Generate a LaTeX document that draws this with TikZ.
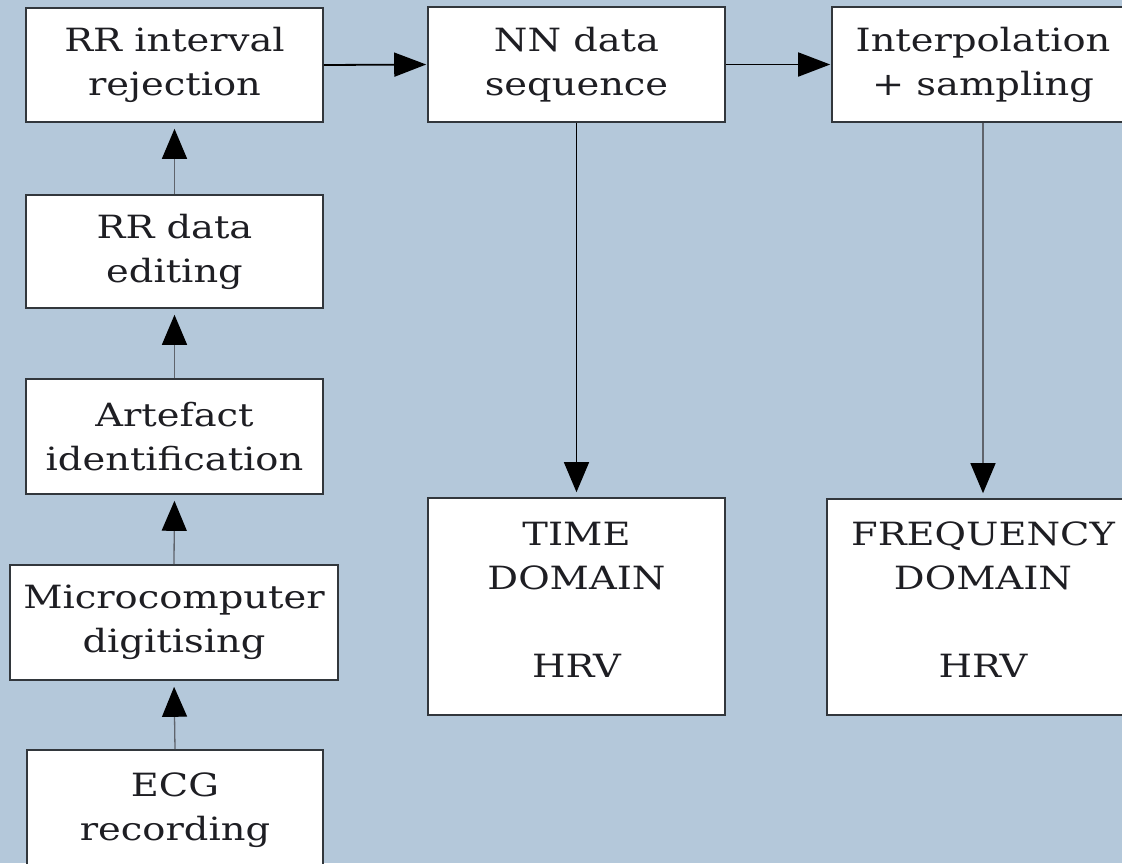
\documentclass[tikz,border=0pt]{standalone}
\usepackage{fontspec}
\setmainfont[FakeStretch=1.2]{DejaVu Serif}
\usetikzlibrary{arrows.meta}
\definecolor{bg}{RGB}{180,200,218}
\definecolor{txt}{RGB}{30,30,35}
\definecolor{bord}{RGB}{50,55,60}
\definecolor{conn}{RGB}{95,100,108}
\tikzset{
  box/.style={draw=bord, line width=1.6pt, fill=white, inner sep=0pt, align=center,
    text=txt, font=\fontsize{32}{44}\selectfont},
  uparrow/.style={draw=conn, line width=1.3pt, -{Triangle[length=30pt,width=25pt,color=black]}, shorten >=6pt},
  hzarrow/.style={draw=black, line width=1.8pt, -{Triangle[length=32pt,width=24pt]}, shorten >=1pt},
  dnarrow/.style={line width=1.3pt, -{Triangle[length=30pt,width=25pt,color=black]}, shorten >=5pt}
}
\begin{document}
\begin{tikzpicture}[x=1pt,y=-1pt]
\useasboundingbox (0,0) rectangle (1122,863);
\clip (0,0) rectangle (1122,863);
\fill[bg] (0,0) rectangle (1122,863);

\node[box, minimum width=297pt, minimum height=114pt] (rej) at (174.5,65) {RR interval\\rejection};
\node[box, minimum width=297pt, minimum height=113pt] (edit) at (174.5,251.5) {RR data\\editing};
\node[box, minimum width=297pt, minimum height=115pt] (art) at (174.5,436.5) {Artefact\\identification};
\node[box, minimum width=328pt, minimum height=115pt] (dig) at (174,622.5) {Microcomputer\\digitising};
\node[box, minimum width=296pt, minimum height=120pt] (ecg) at (175,810) {ECG\\recording};

\node[box, minimum width=297pt, minimum height=115pt] (nn) at (576.5,64.5) {NN data\\sequence};
\node[box, minimum width=302pt, minimum height=115pt] (interp) at (983,64.5) {Interpolation\\+ sampling};

\node[box, minimum width=297pt, minimum height=217pt] (time) at (576.5,606.5) {TIME\\DOMAIN\\[44pt]HRV\\[-30pt]\mbox{}};
\node[box, minimum width=312pt, minimum height=216pt] (freq) at (983,607) {FREQUENCY\\DOMAIN\\[44pt]HRV\\[-30pt]\mbox{}};

\draw[uparrow] (ecg.north) -- (dig.south);
\draw[uparrow] (dig.north) -- (art.south);
\draw[uparrow] (art.north) -- (edit.south);
\draw[uparrow] (edit.north) -- (rej.south);

\draw[hzarrow] (rej.east) -- (nn.west);
\draw[hzarrow] (nn.east) -- (interp.west);

\draw[dnarrow, draw=black] (nn.south) -- (time.north);
\draw[dnarrow, draw=conn] (interp.south) -- (freq.north);
\end{tikzpicture}
\end{document}
